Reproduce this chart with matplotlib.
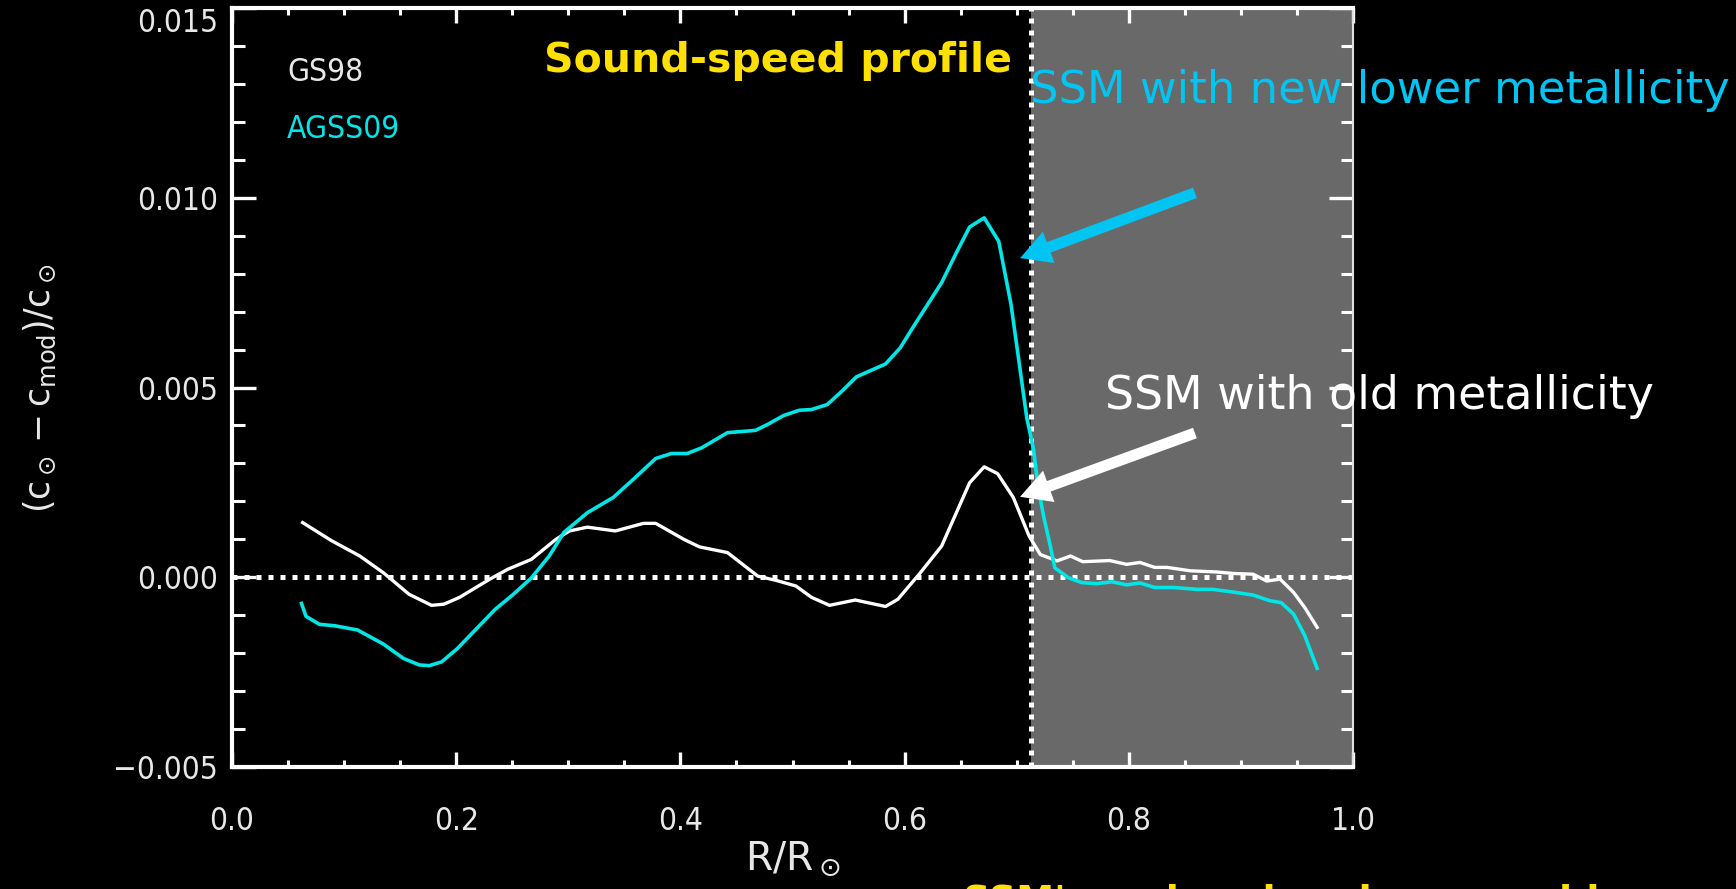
import matplotlib
matplotlib.use('Agg')
import matplotlib.pyplot as plt
from matplotlib import font_manager as fm
from matplotlib.font_manager import FontProperties
from matplotlib.ticker import MultipleLocator, FuncFormatter

# ---------------- data ----------------
x_gs98 = [0.063, 0.089, 0.114, 0.135, 0.158, 0.178, 0.189, 0.203, 0.230, 0.246,
          0.267, 0.289, 0.301, 0.317, 0.342, 0.367, 0.378, 0.403, 0.417, 0.442,
          0.469, 0.485, 0.503, 0.517, 0.533, 0.556, 0.583, 0.594, 0.613, 0.633,
          0.658, 0.671, 0.683, 0.697, 0.711, 0.721, 0.736, 0.748, 0.759, 0.783,
          0.798, 0.810, 0.823, 0.834, 0.855, 0.878, 0.893, 0.911, 0.923, 0.935,
          0.947, 0.957, 0.968]
y_gs98 = [0.00144, 0.00096, 0.00056, 0.00012, -0.00045, -0.00074, -0.00071, -0.00053, -0.00005, 0.00021,
          0.00047, 0.00100, 0.00122, 0.00132, 0.00122, 0.00142, 0.00142, 0.00100, 0.00080, 0.00065,
          0.00003, -0.00008, -0.00023, -0.00053, -0.00074, -0.00060, -0.00077, -0.00058, 0.00008, 0.00082,
          0.00249, 0.00291, 0.00273, 0.00210, 0.00109, 0.00060, 0.00043, 0.00056, 0.00041, 0.00044,
          0.00034, 0.00039, 0.00026, 0.00026, 0.00017, 0.00014, 0.00010, 0.00008, -0.00010, -0.00005,
          -0.00040, -0.00080, -0.00132]

x_agss09 = [0.062, 0.066, 0.078, 0.092, 0.112, 0.135, 0.153, 0.167, 0.176, 0.187,
            0.201, 0.217, 0.235, 0.251, 0.267, 0.283, 0.296, 0.317, 0.340, 0.358,
            0.378, 0.392, 0.406, 0.419, 0.442, 0.467, 0.478, 0.492, 0.506, 0.517,
            0.531, 0.544, 0.557, 0.583, 0.596, 0.608, 0.633, 0.646, 0.658, 0.671,
            0.684, 0.695, 0.709, 0.715, 0.719, 0.724, 0.730, 0.734, 0.746, 0.758,
            0.771, 0.785, 0.798, 0.810, 0.823, 0.840, 0.861, 0.875, 0.893, 0.911,
            0.926, 0.936, 0.947, 0.957, 0.968]
y_agss09 = [-0.00069, -0.00103, -0.00124, -0.00128, -0.00139, -0.00176, -0.00214, -0.00231, -0.00233, -0.00223,
            -0.00188, -0.00139, -0.00084, -0.00045, -0.00002, 0.00056, 0.00118, 0.00170, 0.00210, 0.00258,
            0.00313, 0.00326, 0.00326, 0.00341, 0.00381, 0.00387, 0.00403, 0.00426, 0.00440, 0.00442,
            0.00455, 0.00490, 0.00528, 0.00562, 0.00604, 0.00661, 0.00776, 0.00854, 0.00923, 0.00947,
            0.00885, 0.00718, 0.00420, 0.00337, 0.00240, 0.00161, 0.00082, 0.00025, -0.00001, -0.00014,
            -0.00017, -0.00012, -0.00020, -0.00015, -0.00027, -0.00027, -0.00032, -0.00032, -0.00039, -0.00047,
            -0.00062, -0.00067, -0.00097, -0.00154, -0.00240]

convection_zone_base = 0.713
series_names = ['GS98', 'AGSS09']
title_text = 'Sound-speed profile'
note_new = 'SSM with new lower metallicity'
note_old = 'SSM with old metallicity'
bottom_text = "SSM's: solar abundance problem"

# ---------------- fonts ----------------
def pick_tick_font():
    fl = fm.fontManager.ttflist
    for f in fl:
        if f.name == 'Liberation Sans Narrow' and f.style == 'normal' and f.weight in (400, 'normal', 'regular'):
            return FontProperties(fname=f.fname)
    for f in fl:
        if f.name == 'Liberation Sans Narrow' and f.style == 'normal':
            return FontProperties(fname=f.fname)
    for f in fl:
        if f.name == 'DejaVu Sans' and f.stretch in ('condensed', 'semi-condensed') \
                and f.style == 'normal' and f.weight in (400, 'normal', 'regular'):
            return FontProperties(fname=f.fname)
    for f in fl:
        if f.name == 'Roboto' and f.style == 'normal' and f.weight in (300, 'light'):
            return FontProperties(fname=f.fname)
    return FontProperties(family='DejaVu Sans')


TICKFP = pick_tick_font()
ANNFONT = 'DejaVu Sans'
plt.rcParams['mathtext.fontset'] = 'dejavusans'

W, H = 1736, 889
CYAN = '#00E5E5'
ARROW_CYAN = '#00C4F2'
YELLOW = '#FFE000'
LIGHT = '#E8E8E8'

fig = plt.figure(figsize=(W / 100, H / 100), dpi=100, facecolor='black')
ax = fig.add_axes([232 / W, 1 - 767 / H, (1353 - 232) / W, (767 - 8) / H], facecolor='black')
ax.set_xlim(0, 1)
ax.set_ylim(-0.005, 0.015)

ax.axvspan(convection_zone_base, 1.0, color='dimgray', lw=0, zorder=0)
dot = (0, (1, 1.4))
ax.axhline(0, color='white', lw=3.6, ls=dot, dash_capstyle='butt', zorder=2)
ax.axvline(convection_zone_base, color='white', lw=3.6, ls=dot, dash_capstyle='butt', zorder=2)

ax.plot(x_gs98, y_gs98, color='white', lw=2.4, zorder=3)
ax.plot(x_agss09, y_agss09, color=CYAN, lw=2.6, zorder=3)

# spines
for s in ['left', 'bottom', 'top']:
    ax.spines[s].set_color('white')
    ax.spines[s].set_linewidth(3)
ax.spines['right'].set_color('#E0E0E0')
ax.spines['right'].set_linewidth(1.5)

ax.xaxis.set_major_locator(MultipleLocator(0.2))
ax.xaxis.set_minor_locator(MultipleLocator(0.05))
ax.yaxis.set_major_locator(MultipleLocator(0.005))
ax.yaxis.set_minor_locator(MultipleLocator(0.001))
ax.xaxis.set_major_formatter(FuncFormatter(lambda v, p: f'{v:.1f}'))
ax.yaxis.set_major_formatter(FuncFormatter(lambda v, p: f'{v:.3f}'.replace('-', '\u2212')))

ax.tick_params(axis='both', which='both', direction='in', colors='white',
               top=True, right=True, labelcolor=LIGHT)
ax.tick_params(axis='y', which='major', length=17, width=2.4, pad=10)
ax.tick_params(axis='y', which='minor', length=9, width=2.2)
ax.tick_params(axis='x', which='major', length=11, width=2.4, pad=28)
ax.tick_params(axis='x', which='minor', length=5, width=2.2)

renderer = fig.canvas.get_renderer()


def fit(t, target, dim='w'):
    bb = t.get_window_extent(renderer)
    cur = bb.width if dim == 'w' else bb.height
    t.set_fontsize(t.get_fontsize() * target / cur)


# tick label font: size chosen so that digits are ~24 px tall
probe = fig.text(0, 0, '0', fontproperties=TICKFP, fontsize=25)
fit(probe, 31, 'h')
TICKSIZE = min(probe.get_fontsize(), 26)
probe.remove()

ax.figure.canvas.draw()
for lab in ax.get_xticklabels() + ax.get_yticklabels():
    lab.set_fontproperties(TICKFP)
    lab.set_fontsize(TICKSIZE)

# top y label sits below its tick, inside the figure
for t in ax.yaxis.get_major_ticks():
    if abs(t.get_loc() - 0.015) < 1e-9:
        t.label1.set_verticalalignment('top')

# thin ticks on the grey side
for t in ax.yaxis.get_major_ticks() + ax.yaxis.get_minor_ticks():
    t.tick2line.set_linewidth(1.2)
    t.tick2line.set_color('#DDDDDD')
for t in ax.xaxis.get_major_ticks() + ax.xaxis.get_minor_ticks():
    if t.get_loc() > convection_zone_base:
        for ln in (t.tick1line, t.tick2line):
            ln.set_linewidth(1.2)
            ln.set_color('#DDDDDD')

# legend-like labels
ax.text(0.049, 0.01331, series_names[0], color=LIGHT, fontproperties=TICKFP,
        fontsize=TICKSIZE, ha='left', va='center')
ax.text(0.049, 0.01181, series_names[1], color=CYAN, fontproperties=TICKFP,
        fontsize=TICKSIZE, ha='left', va='center')

# arrows
ax.annotate('', xy=(0.703, 0.00841), xytext=(0.859, 0.01013),
            arrowprops=dict(facecolor=ARROW_CYAN, edgecolor='none', width=8,
                            headwidth=24, headlength=22, shrink=0),
            annotation_clip=False, zorder=5)
ax.annotate('', xy=(0.703, 0.00212), xytext=(0.859, 0.0038),
            arrowprops=dict(facecolor='white', edgecolor='none', width=8,
                            headwidth=24, headlength=22, shrink=0),
            annotation_clip=False, zorder=5)


def P(x, y):
    return x / W, 1 - y / H


t1 = fig.text(*P(544, 61), title_text, color=YELLOW, fontsize=28, fontweight='bold',
              family=ANNFONT, ha='left', va='center')
fit(t1, 467)
t2 = fig.text(*P(1030, 91), note_new, color=ARROW_CYAN, fontsize=28, family=ANNFONT,
              ha='left', va='center')
fit(t2, 698)
t3 = fig.text(*P(1105, 397), note_old, color='white', fontsize=28, family=ANNFONT,
              ha='left', va='center')
fit(t3, 548)
t4 = fig.text(*P(963, 884), bottom_text, color=YELLOW, fontsize=28,
              fontweight='bold', family=ANNFONT, ha='left', va='top')
fit(t4, 700)

# axis labels
yl = fig.text(*P(40, 388), r'$(\mathrm{c}_\odot-\mathrm{c}_\mathrm{mod})/\mathrm{c}_\odot$',
              color=LIGHT, fontsize=26, rotation=90, ha='center', va='center')
fit(yl, 250, 'h')
xl = fig.text(*P(793, 870), r'$\mathrm{R}/\mathrm{R}_\odot$', color=LIGHT, fontsize=26,
              ha='center', va='baseline')
fit(xl, 96)

fig.savefig('out.png', dpi=100, facecolor='black')
